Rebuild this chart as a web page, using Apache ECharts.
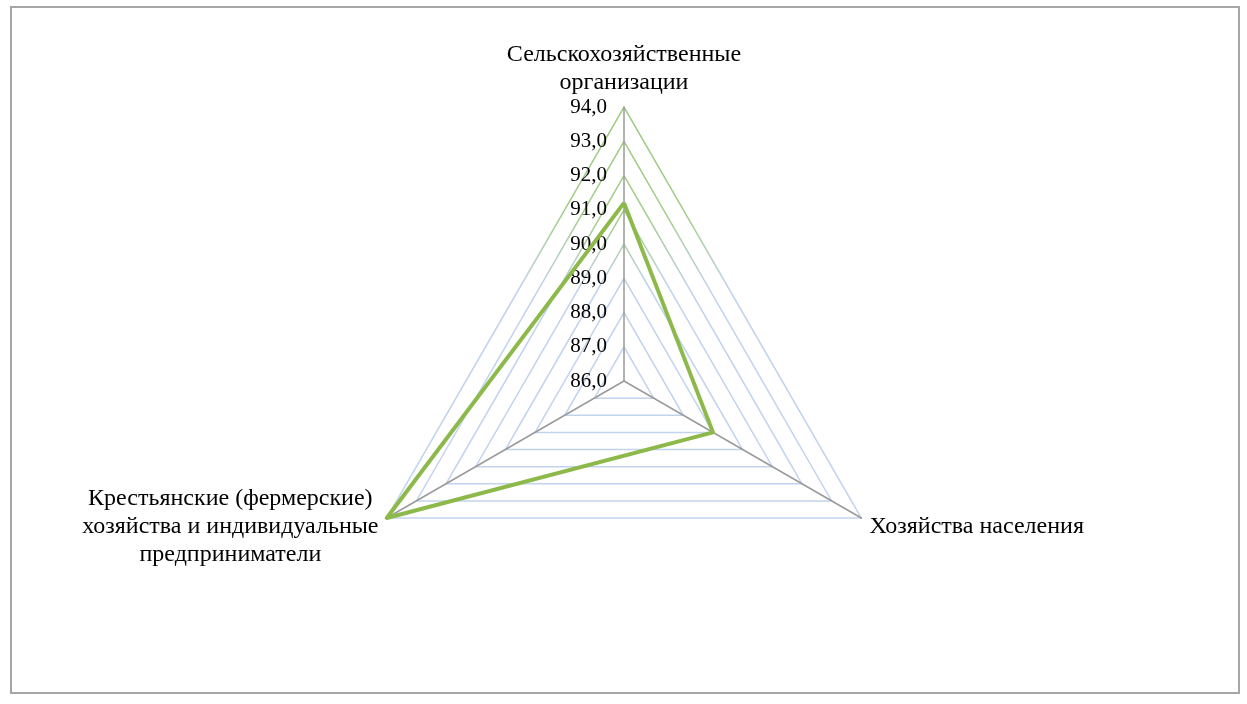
<!DOCTYPE html>
<html>
<head>
<meta charset="utf-8">
<script src="https://cdn.jsdelivr.net/npm/echarts@6/dist/echarts.min.js"></script>
<style>
  html, body { margin: 0; padding: 0; background: #fff; }
  #frame {
    position: absolute; left: 10px; top: 6px; width: 1226px; height: 684px;
    border: 2px solid #a6a6a6; box-sizing: content-box;
  }
  #chart { position: absolute; left: 0; top: 0; width: 1247px; height: 704px; }
</style>
</head>
<body>
<div id="frame"></div>
<div id="chart"></div>
<script>
// данные диаграммы
const indicatorNames = [
  'Сельскохозяйственные\nорганизации',
  'Крестьянские (фермерские)\nхозяйства и индивидуальные\nпредприниматели',
  'Хозяйства населения'
];
const shareValues = [91.2, 94.0, 89.0];
const axisMin = 86;
const axisMax = 94;
const splitCount = 8;

const chart = echarts.init(document.getElementById('chart'));

// сетка: сверху зелёная, ниже голубая
const gridColor = new echarts.graphic.LinearGradient(0, 100, 0, 520, [
  { offset: 0, color: '#9cc97b' },
  { offset: 0.28, color: '#a4cd89' },
  { offset: 0.45, color: '#bfd1ec' },
  { offset: 1, color: '#c3d4ee' }
], true);

const option = {
  animation: false,
  radar: {
    center: [624, 381],
    radius: 274,
    startAngle: 90,
    shape: 'polygon',
    splitNumber: splitCount,
    indicator: indicatorNames.map((n) => ({ name: n, min: axisMin, max: axisMax })),
    axisName: {
      color: '#000',
      fontFamily: 'Liberation Serif',
      fontSize: 24,
      lineHeight: 28,
      padding: [11, 3, 0, 3],
      formatter: (name) => name.split('\n').map(s => '{c|' + s + '}').join('\n'),
      rich: {
        c: { align: 'center', fontFamily: 'Liberation Serif', fontSize: 24, lineHeight: 28, color: '#000' }
      }
    },
    nameGap: 6,
    splitArea: { show: false },
    splitLine: { lineStyle: { color: gridColor, width: 1.5 } },
    axisLine: { lineStyle: { color: '#9a9a9a', width: 1.5 } },
    axisTick: { show: false },
    axisLabel: { show: false }
  },
  series: [{
    type: 'radar',
    symbol: 'none',
    lineStyle: { color: '#8cb94a', width: 4 },
    data: [{ value: shareValues }]
  }]
};

// подписи шкалы только на верхней оси
option.radar.indicator[0].axisLabel = {
  show: true,
  color: '#000',
  fontFamily: 'Liberation Serif',
  fontSize: 21,
  margin: 17,
  padding: [8, 0, 0, 0],
  formatter: (v) => v.toFixed(1).replace('.', ',')
};

chart.setOption(option);
</script>
</body>
</html>
